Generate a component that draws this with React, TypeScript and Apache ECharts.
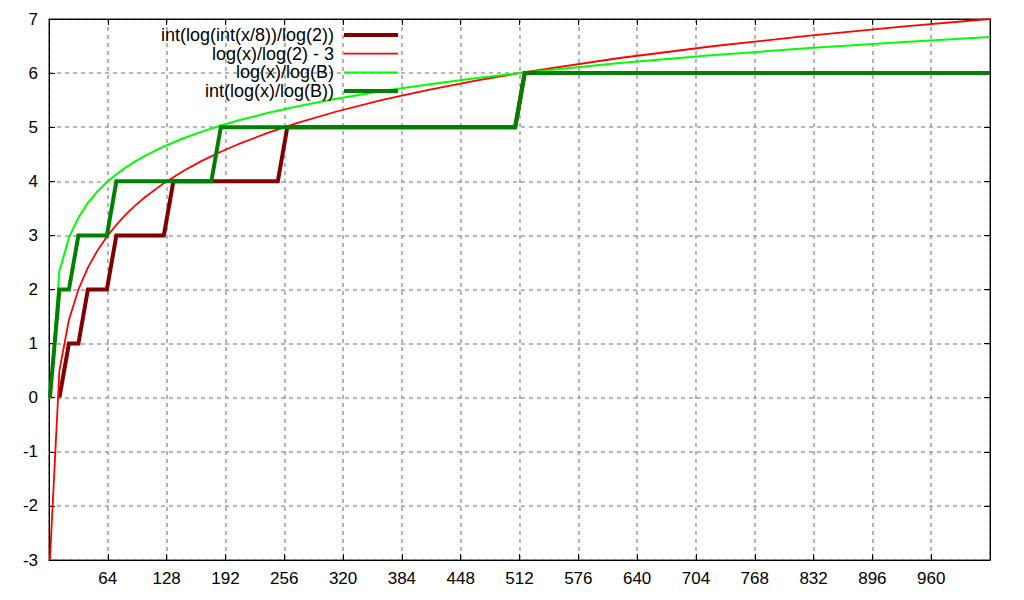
import React, { useEffect, useRef } from "react";
import * as echarts from "echarts";

// x positions of the sampled points (smooth curves)
const smoothX = [1, 11.33, 21.67, 32, 42.33, 52.67, 63, 73.33, 83.67, 94, 104.33, 125, 145.67, 166.33, 187, 207.67, 238.67, 269.67, 311, 362.67, 414.33, 466, 517.67, 621, 724.33, 827.67, 931, 1024];
// log(x)/log(2) - 3
const redValues = [-3, 0.503, 1.437, 2, 2.404, 2.719, 2.977, 3.196, 3.387, 3.555, 3.705, 3.966, 4.187, 4.378, 4.547, 4.698, 4.899, 5.075, 5.281, 5.503, 5.695, 5.864, 6.016, 6.279, 6.501, 6.693, 6.863, 7];
// log(x)/log(B)
const lightGreenValues = [0, 2.335, 2.958, 3.333, 3.602, 3.813, 3.985, 4.131, 4.258, 4.37, 4.47, 4.644, 4.791, 4.919, 5.031, 5.132, 5.266, 5.383, 5.521, 5.668, 5.796, 5.909, 6.011, 6.186, 6.334, 6.462, 6.575, 6.667];
// int(log(int(x/8))/log(2))
const brownX = [11.33, 21.67, 32, 42.33, 63, 73.33, 125, 135.33, 249, 259.33, 507.33, 517.67, 1024];
const brownValues = [0, 1, 1, 2, 2, 3, 3, 4, 4, 5, 5, 6, 6];
// int(log(x)/log(B))
const darkGreenX = [1, 11.33, 21.67, 32, 63, 73.33, 176.67, 187, 507.33, 517.67, 1024];
const darkGreenValues = [0, 2, 2, 3, 3, 4, 4, 5, 5, 6, 6];

const seriesNames = [
  "int(log(int(x/8))/log(2))",
  "log(x)/log(2) - 3",
  "log(x)/log(B)",
  "int(log(x)/log(B))",
];
const seriesColors = ["#800000", "#ff0000", "#00ff00", "#008000"];
const seriesWidths = [4, 1.8, 2, 4];

const FONT = '"Liberation Sans", Arial, Helvetica, sans-serif';

const zip = (xs: number[], ys: number[]) => xs.map((x, i) => [x, ys[i]]);

export default function App() {
  const ref = useRef<HTMLDivElement>(null);
  useEffect(() => {
    if (!ref.current) return;
    const chart = echarts.init(ref.current, undefined, { renderer: "svg" });
    const dataSets = [
      zip(brownX, brownValues),
      zip(smoothX, redValues),
      zip(smoothX, lightGreenValues),
      zip(darkGreenX, darkGreenValues),
    ];
    const legendRows = [35, 53.7, 72.4, 91.1];
    const graphics: any[] = [];
    seriesNames.forEach((n, i) => {
      graphics.push({
        type: "text",
        x: 334,
        y: legendRows[i],
        z: 100,
        style: {
          text: n,
          fill: "#000",
          fontSize: 18,
          lineHeight: 18,
          fontFamily: FONT,
          align: "right",
          verticalAlign: "middle",
        },
      });
      graphics.push({
        type: "line",
        z: 100,
        shape: { x1: 344, y1: legendRows[i], x2: 398, y2: legendRows[i] },
        style: { stroke: seriesColors[i], lineWidth: seriesWidths[i] },
      });
    });
    const gridLine = { show: true, lineStyle: { color: "#a0a0a0", type: [4, 4], width: 1.6 } };
    chart.setOption({
      animation: false,
      backgroundColor: "#fff",
      textStyle: { fontFamily: FONT },
      grid: {
        left: 49,
        right: 34,
        top: 19,
        bottom: 40,
        show: true,
        borderColor: "#000",
        borderWidth: 1,
        backgroundColor: "transparent",
      },
      xAxis: [
        {
          type: "value",
          min: 0,
          max: 1024,
          interval: 64,
          position: "bottom",
          axisLine: { show: true, onZero: false, lineStyle: { color: "#000", width: 1 } },
          axisTick: { show: true, inside: true, length: 6, lineStyle: { color: "#000" } },
          axisLabel: {
            color: "#000",
            fontSize: 17,
            fontFamily: FONT,
            margin: 10,
            formatter: (v: number) => (v === 0 || v === 1024 ? "" : String(v)),
          },
          splitLine: gridLine,
        },
        {
          type: "value",
          min: 0,
          max: 1024,
          interval: 64,
          position: "top",
          axisLine: { show: true, onZero: false, lineStyle: { color: "#000", width: 1 } },
          axisTick: { show: true, inside: true, length: 6, lineStyle: { color: "#000" } },
          axisLabel: { show: false },
          splitLine: { show: false },
        },
      ],
      yAxis: [
        {
          type: "value",
          min: -3,
          max: 7,
          interval: 1,
          position: "left",
          axisLine: { show: true, onZero: false, lineStyle: { color: "#000", width: 1 } },
          axisTick: { show: true, inside: true, length: 6, lineStyle: { color: "#000" } },
          axisLabel: { color: "#000", fontSize: 17, fontFamily: FONT, margin: 11 },
          splitLine: gridLine,
        },
        {
          type: "value",
          min: -3,
          max: 7,
          interval: 1,
          position: "right",
          axisLine: { show: true, onZero: false, lineStyle: { color: "#000", width: 1 } },
          axisTick: { show: true, inside: true, length: 6, lineStyle: { color: "#000" } },
          axisLabel: { show: false },
          splitLine: { show: false },
        },
      ],
      series: seriesNames.map((n, i) => ({
        name: n,
        type: "line",
        xAxisIndex: 0,
        yAxisIndex: 0,
        data: dataSets[i],
        showSymbol: false,
        symbol: "none",
        clip: true,
        z: 2 + i,
        lineStyle: { color: seriesColors[i], width: seriesWidths[i], join: "miter" },
        itemStyle: { color: seriesColors[i] },
      })),
      graphic: graphics,
    });
    return () => chart.dispose();
  }, []);
  return (
    <div
      ref={ref}
      style={{ position: "fixed", left: 0, top: 0, width: 1024, height: 600, background: "#fff" }}
    />
  );
}
